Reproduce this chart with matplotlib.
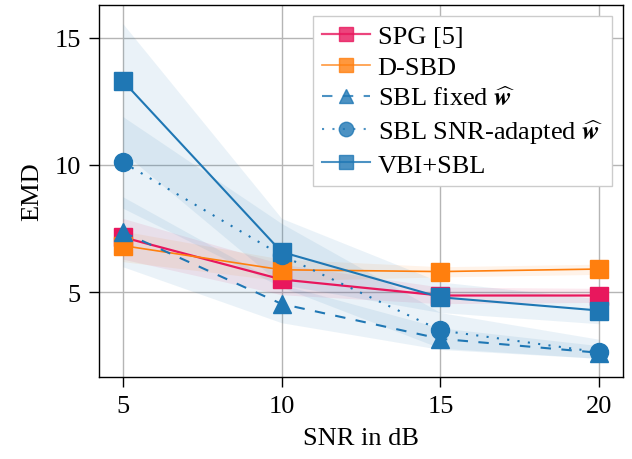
import matplotlib
matplotlib.use("Agg")
import matplotlib.pyplot as plt
import numpy as np

snr = [5, 10, 15, 20]

spg = [7.16, 5.50, 4.87, 4.87]
spg_lo = [6.3, 4.9, 4.55, 4.6]
spg_hi = [7.9, 6.1, 5.2, 5.15]

dsbd = [6.83, 5.88, 5.81, 5.91]
dsbd_lo = [6.2, 5.45, 5.6, 5.7]
dsbd_hi = [7.4, 6.3, 6.0, 6.1]

sbl_fixed = [7.36, 4.54, 3.17, 2.62]
sbl_fixed_lo = [6.0, 3.8, 2.75, 2.4]
sbl_fixed_hi = [8.75, 5.3, 3.6, 2.9]

sbl_adapt = [10.1, 6.45, 3.5, 2.64]
sbl_adapt_lo = [8.3, 5.2, 2.8, 2.4]
sbl_adapt_hi = [11.9, 7.7, 4.2, 3.15]

vbi = [13.3, 6.58, 4.8, 4.28]
vbi_lo = [10.5, 5.3, 4.2, 3.76]
vbi_hi = [15.55, 7.9, 5.4, 4.74]

labels = ["SPG [5]", "D-SBD", r"SBL fixed $\widehat{\mathbfit{w}}$",
          r"SBL SNR-adapted $\widehat{\mathbfit{w}}$", "VBI+SBL"]

plt.rcParams['font.family'] = ['Liberation Serif', 'DejaVu Serif']
plt.rcParams['mathtext.fontset'] = 'stix'

pink = '#e8175d'
orange = '#ff7f0e'
blue = '#1f77b4'

fig = plt.figure(figsize=(6.32, 4.60), dpi=100)
ax = fig.add_axes([0.1566, 0.1783, 0.8292, 0.8087])

series = [
    (spg, spg_lo, spg_hi, pink, '-', 's', 1.6),
    (dsbd, dsbd_lo, dsbd_hi, orange, '-', 's', 1.2),
    (sbl_fixed, sbl_fixed_lo, sbl_fixed_hi, blue, (0, (5, 5)), '^', 1.5),
    (sbl_adapt, sbl_adapt_lo, sbl_adapt_hi, blue, (0, (1, 4)), 'o', 1.5),
    (vbi, vbi_lo, vbi_hi, blue, '-', 's', 1.5),
]

for (y, lo, hi, c, ls, m, lw) in series:
    ax.fill_between(snr, lo, hi, color=c, alpha=0.09, lw=0, zorder=1)

for (y, lo, hi, c, ls, m, lw), lab in zip(series, labels):
    ax.plot(snr, y, color=c, ls=ls, lw=lw, marker=m, markersize=12.5 if m != 'o' else 13,
            markerfacecolor=c, markeredgecolor=c, zorder=3, label=lab)

ax.set_xlim(4.25, 20.75)
ax.set_ylim(1.67, 16.28)
ax.set_xticks([5, 10, 15, 20])
ax.set_yticks([5, 10, 15])
ax.grid(True, color='#b5b5b5', lw=1.0)
ax.set_axisbelow(True)
ax.tick_params(axis='both', direction='out', length=7, width=1, labelsize=19, pad=6)
for s in ax.spines.values():
    s.set_linewidth(1.0)

ax.set_xlabel("SNR in dB", fontsize=19, labelpad=7)
ax.set_ylabel("EMD", fontsize=19, labelpad=8)

leg = ax.legend(loc='upper right', fontsize=19, frameon=True, fancybox=False,
                edgecolor='#cccccc', framealpha=1, borderaxespad=0.4,
                handlelength=1.8, labelspacing=0.28, handletextpad=0.3,
                borderpad=0.35, markerscale=0.8)
for lh in leg.legend_handles:
    lh.set_alpha(0.8)

fig.savefig("out.png", dpi=100)
